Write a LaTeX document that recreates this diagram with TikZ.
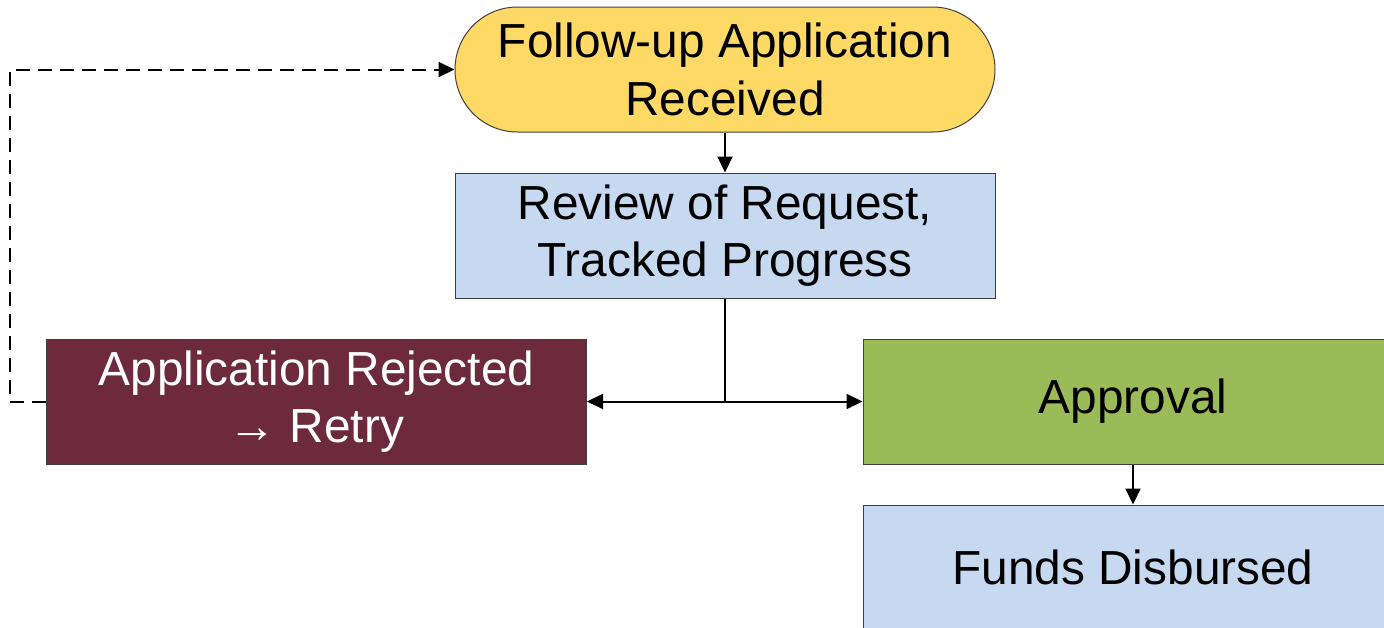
\documentclass[tikz,border=0pt]{standalone}
\usepackage{fontspec}
\setmainfont{Liberation Sans}
\usetikzlibrary{arrows.meta,shapes.misc}
\definecolor{cyellow}{HTML}{FFD966}
\definecolor{cblue}{HTML}{C6D9F0}
\definecolor{cmaroon}{HTML}{6D2A3C}
\definecolor{cgreen}{HTML}{9BBB59}
\definecolor{cborder}{HTML}{404040}
\tikzset{
  box/.style={draw=cborder, line width=1pt, minimum width=540pt, minimum height=125pt,
    inner sep=0pt, align=center, font=\fontsize{47.8}{57.5}\selectfont},
  pill/.style={box, rounded rectangle},
  conn/.style={line width=2pt, -{Triangle[length=16pt,width=15pt]}},
  plain/.style={line width=2pt},
  dashconn/.style={line width=2pt, dash pattern=on 14pt off 8pt, -{Triangle[length=16pt,width=15pt]}}
}
\begin{document}
\begin{tikzpicture}[x=1pt,y=-1pt]
\useasboundingbox (0,0) rectangle (1384,627);
\fill[white] (0,0) rectangle (1384,627);
\clip (0,0) rectangle (1384,627);
\node[pill, fill=cyellow] (recv) at (725,69.5) {Follow-up Application\\Received};
\node[box, fill=cblue] (review) at (725,235.5) {Review of Request,\\Tracked Progress};
\node[box, fill=cmaroon, text=white] (rej) at (316.5,401.5) {Application Rejected\\→ Retry};
\node[box, fill=cgreen] (appr) at (1133,401.5) {Approval};
\node[box, fill=cblue] (funds) at (1133,567.5) {Funds Disbursed};
\coordinate (split) at (review.south |- rej.east);
\coordinate (lft) at (10,0);
\draw[conn] (recv) -- (review);
\draw[plain] (review.south) -- (split);
\draw[conn] (split) -- (rej.east);
\draw[conn] (split) -- (appr.west);
\draw[conn] (appr) -- (funds);
\draw[dashconn] (rej.west) -- (lft |- rej.west) -- (lft |- recv.west) -- (recv.west);
\end{tikzpicture}
\end{document}
